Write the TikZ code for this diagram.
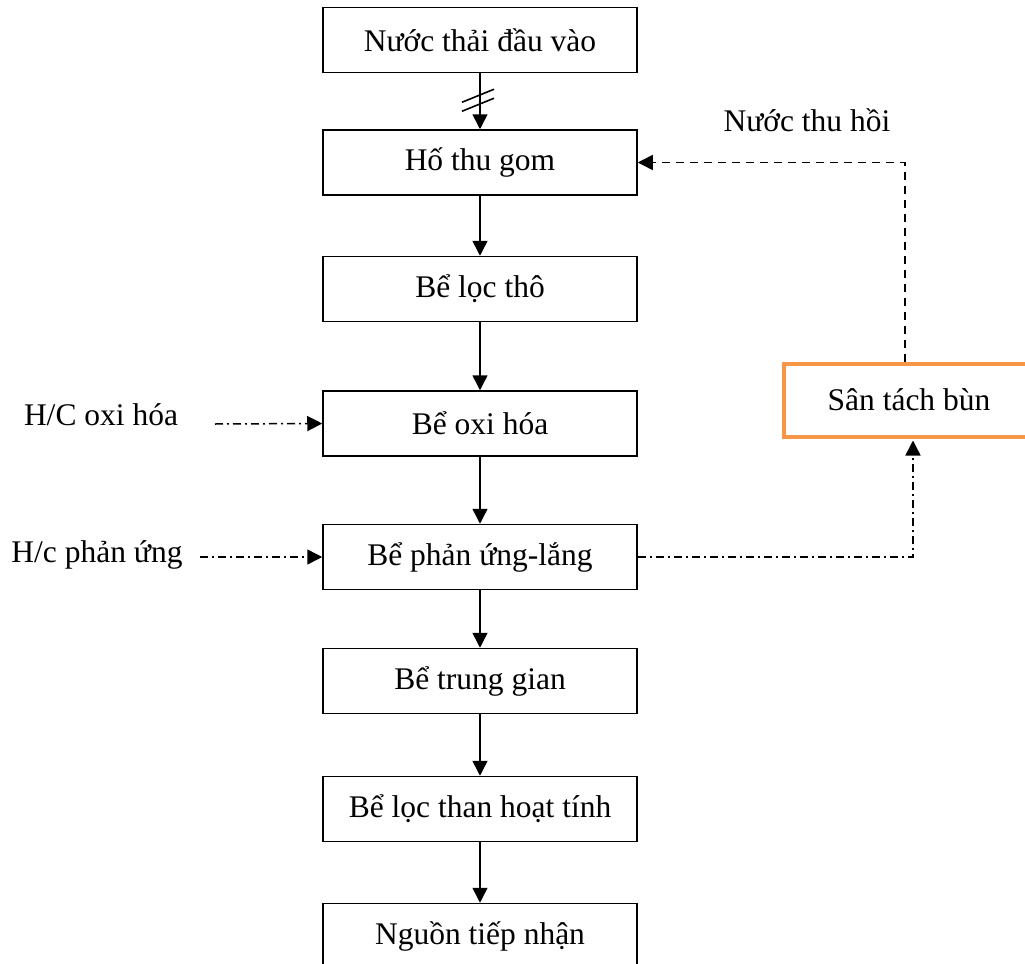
\documentclass[tikz,border=0pt]{standalone}
\usepackage{fontspec}
\setmainfont{Liberation Serif}
\usetikzlibrary{arrows.meta}
\definecolor{sludgeorange}{HTML}{F79646}
\begin{document}
\begin{tikzpicture}[x=0.5pt,y=-0.5pt,
  txt/.style={font=\fontsize{15.75}{19}\selectfont},
  stage/.style={txt, draw, line width=0.75pt, minimum width=157pt,
    minimum height=32.5pt, inner sep=0pt},
  sludgebox/.style={txt, draw=sludgeorange, line width=2pt, minimum width=125pt,
    minimum height=36.5pt, inner sep=0pt},
  tip/.style={-{Triangle[length=7.5pt,width=7.5pt]}},
  flow/.style={tip, line width=0.75pt},
  returnline/.style={tip, line width=0.75pt, dash pattern=on 4pt off 3pt},
  dosing/.style={tip, line width=0.75pt, dash pattern=on 4pt off 2pt on 1pt off 2pt}
]
\useasboundingbox (0,0) rectangle (1025,964);
\clip (0,0) rectangle (1025,964);

% main treatment line
\node[stage] (b1) at (480,40)    {Nước thải đầu vào};
\node[stage] (b2) at (480,162.5) {Hố thu gom};
\node[stage] (b3) at (480,289)   {Bể lọc thô};
\node[stage] (b4) at (480,423.5) {Bể oxi hóa};
\node[stage] (b5) at (480,557)   {Bể phản ứng-lắng};
\node[stage] (b6) at (480,681)   {Bể trung gian};
\node[stage] (b7) at (480,809)   {Bể lọc than hoạt tính};
\node[stage] (b8) at (480,936)   {Nguồn tiếp nhận};

% sludge drying bed
\node[sludgebox] (sl) at (909,400) {Sân tách bùn};

% labels
\node[txt] (rec) at (807,120) {Nước thu hồi};
\node[txt] (ox)  at (101,415) {H/C oxi hóa};
\node[txt] (re)  at (97,555)  {H/c phản ứng};
\coordinate (oxs) at (215,424);
\coordinate (res) at (200,557);

% main flow
\draw[flow] (b1) -- (b2);
\path (b1.south) -- (b2.north) coordinate[pos=0.5] (m);
\draw[line width=0.8pt, shift={(m)}] (-18,1) -- (14,-12);
\draw[line width=0.8pt, shift={(m)}] (-18,10) -- (14,-3);
\draw[flow] (b2) -- (b3);
\draw[flow] (b3) -- (b4);
\draw[flow] (b4) -- (b5);
\draw[flow] (b5) -- (b6);
\draw[flow] (b6) -- (b7);
\draw[flow] (b7) -- (b8);

% chemical dosing
\draw[dosing] (oxs) -- (b4.west);
\draw[dosing] (res) -- (b5.west);

% sludge line and recovered water
\draw[dosing, shorten >=1pt] (b5.east) -| ([xshift=2pt]sl.south);
\draw[returnline] ([xshift=-2pt]sl.north) |- (b2.east);
\end{tikzpicture}
\end{document}
